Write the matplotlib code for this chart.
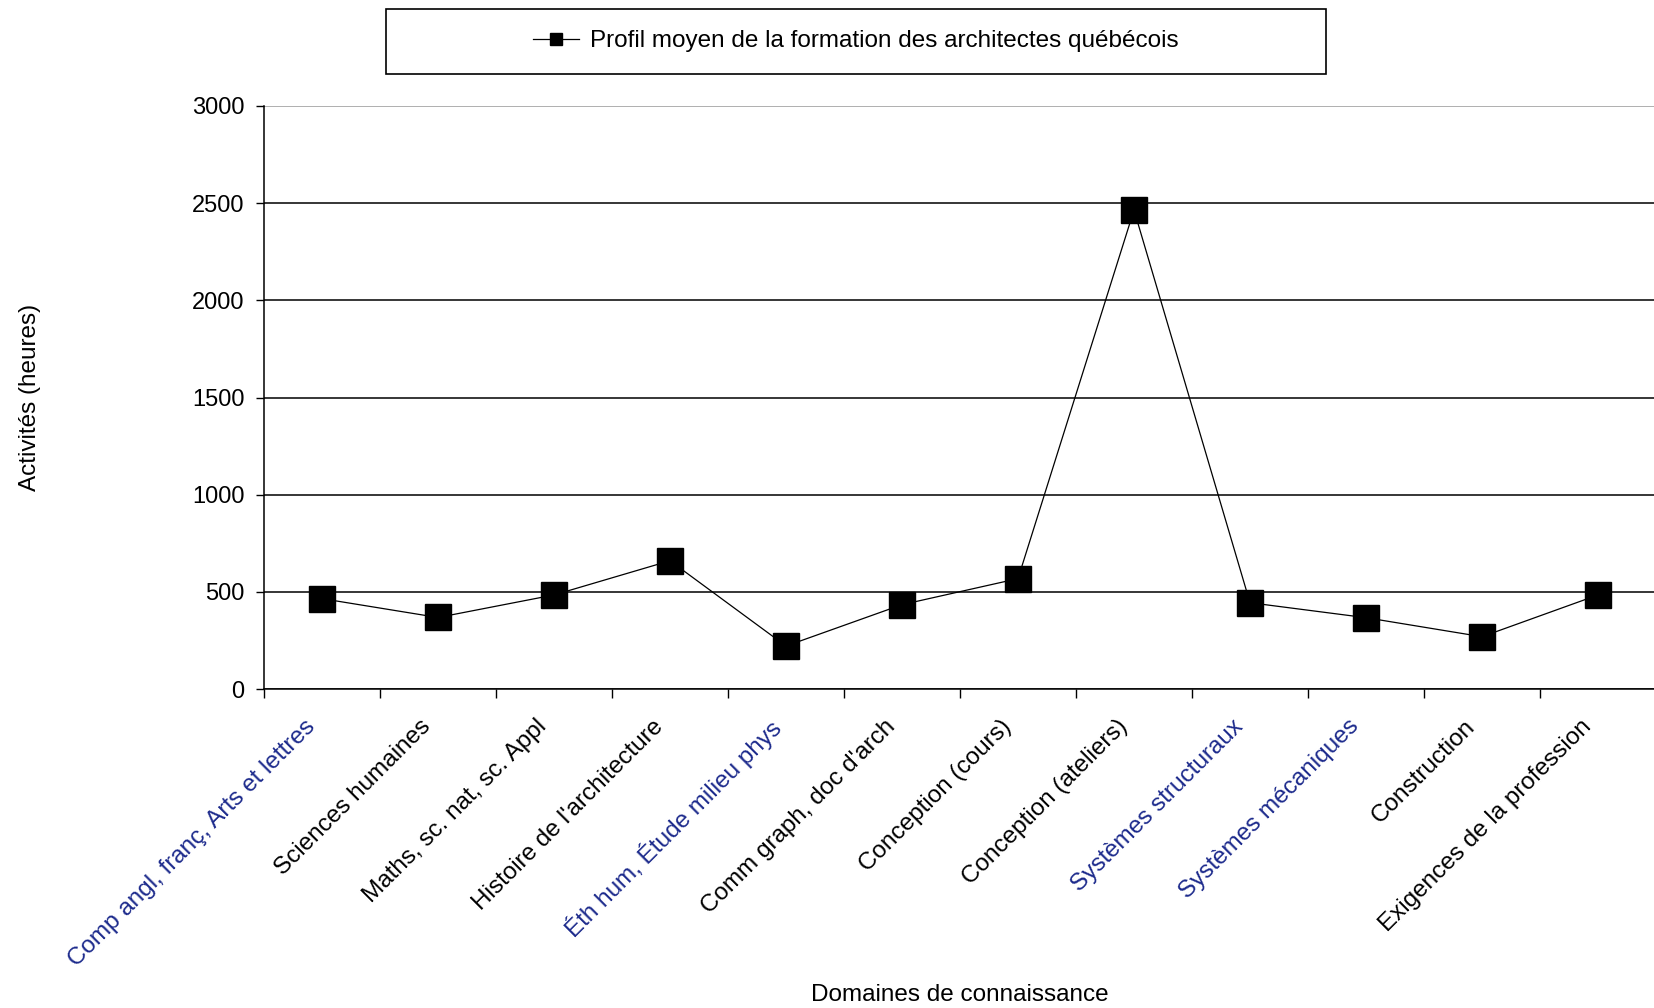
import matplotlib
matplotlib.use("Agg")
from matplotlib import pyplot as plt
from matplotlib.patches import Rectangle
from matplotlib.transforms import ScaledTranslation

plt.rcParams['font.family'] = ['Liberation Sans', 'DejaVu Sans']

# domaines de connaissance et heures moyennes
domaines = [
    "Comp angl, franç, Arts et lettres",
    "Sciences humaines",
    "Maths, sc. nat, sc. Appl",
    "Histoire de l'architecture",
    "Éth hum, Étude milieu phys",
    "Comm graph, doc d'arch",
    "Conception (cours)",
    "Conception (ateliers)",
    "Systèmes structuraux",
    "Systèmes mécaniques",
    "Construction",
    "Exigences de la profession",
]
heures = [465, 368, 484, 660, 221, 434, 568, 2465, 444, 367, 269, 484]
serie = "Profil moyen de la formation des architectes québécois"
# labels drawn in navy in the original
bleus = {0, 4, 8, 9}
y_ticks = [0, 500, 1000, 1500, 2000, 2500, 3000]

W, H = 1654, 1008
fig = plt.figure(figsize=(W / 100, H / 100), dpi=100)
fig.patch.set_facecolor("white")

ax = fig.add_axes([264 / W, 1 - 689 / H, (1656 - 264) / W, (689 - 106) / H])

x = list(range(len(domaines)))
ax.plot(x, heures, color="black", lw=0.9, marker="s", markersize=19,
        markerfacecolor="black", markeredgecolor="black", label=serie,
        clip_on=False, zorder=3)

ax.set_xlim(-0.5, len(domaines) - 0.5)
ax.set_ylim(0, 3000)

ax.set_yticks(y_ticks)
ax.yaxis.grid(True, color="black", lw=1.1)
ax.get_ygridlines()[-1].set_color("#9a9a9a")
ax.set_axisbelow(True)
ax.tick_params(axis="y", length=6, width=1, pad=8, labelsize=17)

ax.set_xticks(x)
ax.set_xticklabels(domaines, rotation=45, ha="right", va="top",
                   rotation_mode="anchor", fontsize=17.5)
ax.set_xticks([i + 0.5 for i in x[:-1]] + [-0.5], minor=True)
ax.tick_params(axis="x", which="major", length=0, pad=19)
ax.tick_params(axis="x", which="minor", length=6.5, width=1)
shift = ScaledTranslation(-18 / 100, 0, fig.dpi_scale_trans)
for i, lab in enumerate(ax.get_xticklabels()):
    lab.set_transform(lab.get_transform() + shift)
    if i in bleus:
        lab.set_color("#1c2a8c")

for s in ("top", "right"):
    ax.spines[s].set_visible(False)
for s in ("left", "bottom"):
    ax.spines[s].set_linewidth(1.1)
    ax.spines[s].set_color("black")

fig.text(30 / W, 1 - 397 / H, "Activités (heures)", rotation=90,
         ha="center", va="center", fontsize=17.5)
fig.text(960 / W, 1 - 995 / H, "Domaines de connaissance",
         ha="center", va="center", fontsize=17.5)

# legend box
fig.patches.append(Rectangle((386 / W, 1 - 74 / H), (1326 - 386) / W, 65.5 / H,
                             transform=fig.transFigure, fill=False,
                             edgecolor="black", lw=1.2))
leg = fig.legend(loc="center", bbox_to_anchor=(856 / W, 1 - 41 / H),
                 frameon=False, fontsize=17.5, handlelength=1.9,
                 handletextpad=0.45)
leg.legend_handles[0].set_markersize(8)

fig.savefig("out.png", dpi=100, facecolor="white")
